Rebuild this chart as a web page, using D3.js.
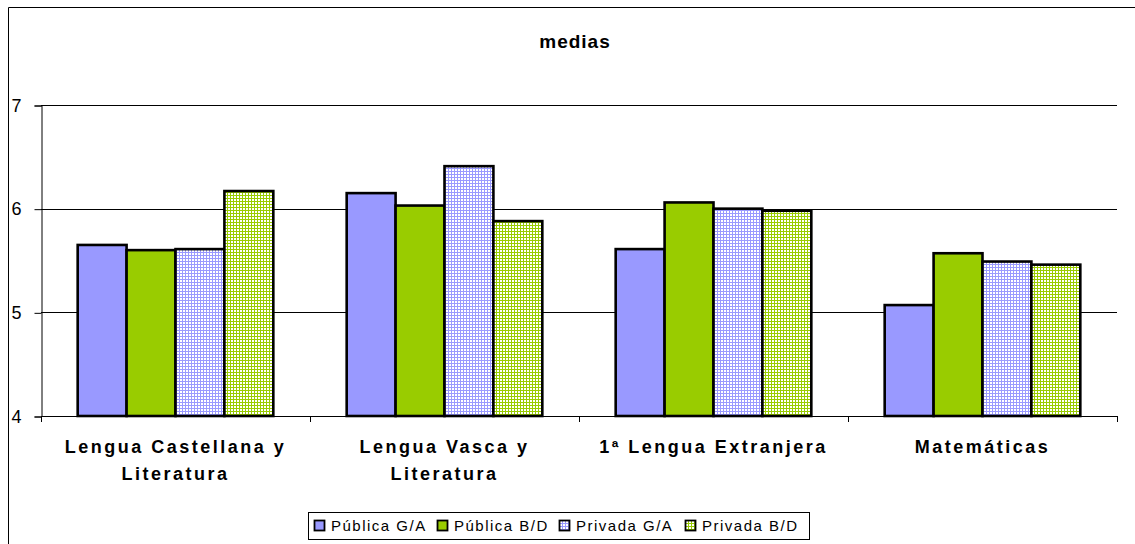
<!DOCTYPE html>
<html>
<head>
<meta charset="utf-8">
<script src="https://cdn.jsdelivr.net/npm/d3@7"></script>
<style>
  html, body { margin: 0; padding: 0; background: #fff; }
  svg { display: block; font-family: Arial, "Liberation Sans", sans-serif; }
</style>
</head>
<body>
<svg id="chart" width="1135" height="544"></svg>
<script>
// categories and how their labels break
const categories = ['Lengua Castellana y Literatura', 'Lengua Vasca y Literatura', '1ª Lengua Extranjera', 'Matemáticas'];
const categoryLines = [['Lengua Castellana y', 'Literatura'], ['Lengua Vasca y', 'Literatura'], ['1ª Lengua Extranjera'], ['Matemáticas']];

// series
const series = ['Pública G/A', 'Pública B/D', 'Privada G/A', 'Privada B/D'];
const publicaGA = [5.65, 6.15, 5.61, 5.07];
const publicaBD = [5.60, 6.03, 6.06, 5.57];
const privadaGA = [5.61, 6.41, 6.00, 5.49];
const privadaBD = [6.17, 5.88, 5.98, 5.46];
const values = [publicaGA, publicaBD, privadaGA, privadaBD];

const yTicks = [4, 5, 6, 7];
const title = 'medias';

const svg = d3.select('#chart');
const W = 1135, H = 544;
const plot = { left: 41, right: 1117, top: 105, bottom: 416 };

// fills: two solid, two small-grid patterns
const defs = svg.append('defs');
function gridPattern(id, color) {
	const p = defs.append('pattern')
		.attr('id', id)
		.attr('patternUnits', 'userSpaceOnUse')
		.attr('width', 3)
		.attr('height', 3);
	p.append('rect').attr('width', 3).attr('height', 3).attr('fill', '#fff');
	p.append('rect').attr('x', 0).attr('y', 0).attr('width', 3).attr('height', 1).attr('fill', color);
	p.append('rect').attr('x', 0).attr('y', 0).attr('width', 1).attr('height', 3).attr('fill', color);
}
gridPattern('gridBlue', '#9999ff');
gridPattern('gridGreen', '#99cc00');
const fills = ['#9999ff', '#99cc00', 'url(#gridBlue)', 'url(#gridGreen)'];

// outer chart frame (runs past the picture on the right and bottom)
svg.append('path')
	.attr('d', `M8.5,${H + 2} V7.5 H${W + 2}`)
	.attr('fill', 'none')
	.attr('stroke', '#000')
	.attr('stroke-width', 1);

// title
svg.append('text')
	.attr('x', 575)
	.attr('y', 48)
	.attr('text-anchor', 'middle')
	.attr('font-size', 19)
	.attr('font-weight', 'bold')
	.attr('letter-spacing', 1)
	.text(title);

// scales
const x0 = d3.scaleBand().domain(categories).range([plot.left, plot.right]).padding(0);
const x1 = d3.scaleBand().domain(series).range([0, x0.bandwidth()]).paddingInner(0).paddingOuter(0.75);
const y = d3.scaleLinear().domain([4, 7]).range([plot.bottom, plot.top]);

// gridlines
svg.append('g')
	.selectAll('line')
	.data(yTicks.filter(t => t > 4))
	.enter()
	.append('line')
		.attr('x1', plot.left)
		.attr('x2', plot.right)
		.attr('y1', d => Math.round(y(d)) + 0.5)
		.attr('y2', d => Math.round(y(d)) + 0.5)
		.attr('stroke', '#000')
		.attr('stroke-width', 1);

// y axis
const yAxis = svg.append('g')
	.attr('transform', `translate(${plot.left + 0.5},0.5)`)
	.call(d3.axisLeft(y).tickValues(yTicks).tickSize(7).tickPadding(13).tickFormat(d3.format('d')));
yAxis.select('.domain').attr('stroke', '#000');
yAxis.selectAll('.tick line').attr('stroke', '#000');
yAxis.selectAll('text')
	.attr('font-size', 18)
	.attr('font-family', 'Arial, "Liberation Sans", sans-serif')
	.attr('fill', '#000');

// bars
const groups = svg.append('g')
	.selectAll('g')
	.data(categories)
	.enter()
	.append('g')
		.attr('transform', d => `translate(${x0(d)},0)`);

groups.selectAll('rect')
	.data((d, ci) => series.map((s, si) => ({ s, si, v: values[si][ci] })))
	.enter()
	.append('rect')
		.attr('x', d => x1(d.s))
		.attr('y', d => y(d.v))
		.attr('width', x1.bandwidth())
		.attr('height', d => y(4) - y(d.v))
		.attr('fill', d => fills[d.si])
		.attr('stroke', '#000')
		.attr('stroke-width', 2.6);

// x axis with ticks at category boundaries
svg.append('line')
	.attr('x1', plot.left)
	.attr('x2', plot.right)
	.attr('y1', plot.bottom + 0.5)
	.attr('y2', plot.bottom + 0.5)
	.attr('stroke', '#000');
svg.append('g')
	.selectAll('line')
	.data(categories.map(c => x0(c)).concat([plot.right]))
	.enter()
	.append('line')
		.attr('x1', d => Math.round(d) + 0.5)
		.attr('x2', d => Math.round(d) + 0.5)
		.attr('y1', plot.bottom)
		.attr('y2', plot.bottom + 6)
		.attr('stroke', '#000');

// category labels
const catLabels = svg.append('g')
	.selectAll('text')
	.data(categories)
	.enter()
	.append('text')
		.attr('text-anchor', 'middle')
		.attr('font-size', 18)
		.attr('font-weight', 'bold')
		.attr('letter-spacing', 2.5);
catLabels.each(function(d, i) {
	const cx = x0(d) + x0.bandwidth() / 2;
	d3.select(this).selectAll('tspan')
		.data(categoryLines[i])
		.enter()
		.append('tspan')
			.attr('x', cx)
			.attr('y', (line, li) => 453 + li * 27)
			.text(line => line);
});

// legend
const legend = svg.append('g');
legend.append('rect')
	.attr('x', 308.5)
	.attr('y', 512.5)
	.attr('width', 501)
	.attr('height', 27)
	.attr('fill', '#fff')
	.attr('stroke', '#000');
const legendX = [314, 437, 559, 685];
const item = legend.selectAll('.item')
	.data(series)
	.enter()
	.append('g')
		.attr('transform', (d, i) => `translate(${legendX[i]},520)`);
item.append('rect')
	.attr('x', 0.5)
	.attr('y', 0.5)
	.attr('width', 10)
	.attr('height', 10)
	.attr('fill', (d, i) => fills[i])
	.attr('stroke', '#000')
	.attr('stroke-width', 1.8);
item.append('text')
	.attr('x', 17)
	.attr('y', 11)
	.attr('font-size', 15)
	.attr('letter-spacing', 1.5)
	.text(d => d);
</script>
</body>
</html>
